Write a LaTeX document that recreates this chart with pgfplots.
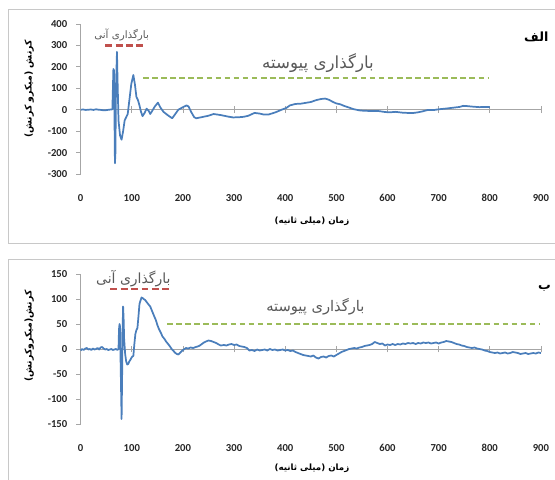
\documentclass[border=0pt]{standalone}
\usepackage{pgfplots}
\pgfplotsset{compat=1.18}
\usepackage{pgfplotstable}
\usepackage{fontspec}
\setmainfont{Carlito}
\newfontfamily\fa[Script=Arabic]{DejaVu Sans}
\TeXXeTstate=1
\newcommand{\FA}[1]{{\fa\beginR #1\endR}}
\definecolor{exblue}{HTML}{4A7EBB}
\definecolor{exred}{HTML}{C0504D}
\definecolor{exgreen}{HTML}{9BBB59}
\definecolor{axgray}{HTML}{A6A6A6}
\definecolor{framegray}{HTML}{C8C8C8}
\definecolor{txtgray}{HTML}{595959}

\pgfplotstableread{
x y
0 0
5 1
10 -1
15 0
20 1
25 -1
30 2
35 0
40 -1
45 -3
50 -2
55 0
60 1
62 2
64 190
65 185
66 0
67 -250
68 -200
69 100
71 270
72 150
74 -50
77 -120
80 -140
83 -100
86 -50
89 -35
92 -20
95 40
99 120
103 162
106 120
109 60
112 45
115 20
118 -10
121 -30
125 -15
129 5
133 -5
136 -20
140 -5
145 15
151 33
156 10
162 -10
170 -25
179 -40
185 -20
191 0
200 12
207 20
211 15
216 -10
222 -35
226 -40
236 -35
250 -28
260 -20
274 -25
288 -32
298 -36
310 -35
319 -33
328 -28
340 -15
350 -18
357 -22
368 -22
381 -12
395 2
402 8
409 20
420 27
430 28
440 32
450 36
461 45
470 50
478 52
485 47
492 38
499 30
508 25
516 17
525 10
533 3
545 -3
554 -5
570 -6
582 -6
596 -11
605 -12
616 -10
630 -14
640 -15
651 -15
660 -12
668 -8
679 -1
692 -1
700 2
713 5
727 9
741 13
748 18
755 17
768 14
780 12
790 13
800 12
}\dataA

\pgfplotstableread{
x y
0 -3
3 0
6 -2
9 1
12 2
15 -1
18 0
21 -2
24 1
27 -1
30 0
33 2
36 -1
39 3
42 4
45 1
48 -1
51 0
54 -2
57 -1
60 0
63 -2
66 -1
69 0
72 -2
74 0
75 40
76 50
77 45
78 -20
79 -80
80 -140
81 -60
82 40
83 85
84 60
85 20
87 -10
89 -25
91 -31
93 -30
95 -25
97 -22
99 -18
101 -15
103 -14
105 10
107 30
109 38
111 42
113 65
115 90
117 97
119 103
121 102
123 100
126 98
129 94
132 90
136 85
140 75
144 65
147 58
150 48
153 40
157 32
160 25
164 20
167 15
171 10
174 6
178 0
181 -3
184 -7
188 -10
191 -11
194 -8
197 -5
200 -2
203 0
206 2
210 1
215 3
220 2
225 4
229 5
233 7
237 10
241 13
245 15
250 17
255 16
260 14
265 12
270 9
274 7
280 8
285 7
290 9
295 10
300 8
305 9
310 6
315 5
320 4
325 2
330 -3
335 -2
340 -4
345 -1
350 -3
355 -2
360 -1
365 -3
370 0
375 -2
380 -1
385 -3
390 -2
395 -1
400 -3
405 -2
410 -4
415 -3
420 -6
425 -8
430 -10
435 -12
440 -13
445 -14
450 -15
455 -13
460 -17
465 -19
470 -16
475 -15
480 -17
485 -14
490 -13
495 -15
500 -12
505 -9
510 -6
515 -4
520 -2
525 0
530 1
535 2
540 1
545 3
550 4
555 6
560 7
565 8
570 10
575 14
580 12
585 10
590 11
595 7
600 9
605 8
610 10
615 8
620 10
625 9
630 11
635 10
640 12
645 11
650 12
655 10
660 12
665 11
670 13
675 12
680 13
685 11
690 12
695 13
700 11
705 13
710 14
715 16
720 15
725 14
730 12
735 10
740 9
745 7
750 6
755 4
760 3
765 2
770 3
775 1
780 0
785 -1
790 -3
795 -4
800 -6
805 -7
810 -8
815 -7
820 -9
825 -8
830 -7
835 -9
840 -8
845 -6
850 -7
855 -8
860 -10
865 -9
870 -8
875 -10
880 -9
885 -8
890 -9
895 -7
900 -8
}\dataB

\pgfplotsset{
  exstyle/.style={
    width=345.2pt, height=112.5pt, scale only axis, clip=false,
    xmin=0, xmax=900, xtick={0,100,...,900},
    axis x line*=bottom, x axis line style={draw=none},
    axis y line*=left, y axis line style={draw=axgray, line width=0.6pt},
    xtick style={draw=none},
    ytick style={draw=axgray, line width=0.6pt},
    tick align=outside, major tick length=3.5pt,
    /pgf/number format/assume math mode=true,
    ticklabel style={font=\fontsize{8}{9}\selectfont\bfseries, text=black!85},
    xticklabel style={yshift=-8pt},
    yticklabel style={xshift=-3pt},
  }
}

\begin{document}
\begin{tikzpicture}[x=0.75pt,y=0.75pt]
\useasboundingbox (0,0) rectangle (555,479);
\draw[framegray, line width=0.75pt] (560,236) -- (8,236) -- (8,469) -- (560,469);
\draw[framegray, line width=0.75pt] (560,220) -- (8,220) -- (8,-5);

\begin{axis}[exstyle, at={(60.5pt,228.75pt)}, anchor=south west,
  ymin=-300, ymax=400, ytick={-300,-200,...,400}]
  \draw[axgray, line width=0.6pt] (axis cs:0,0) -- (axis cs:900,0);
  \pgfplotsinvokeforeach{100,200,300,400,500,600,700,800,900}{
    \draw[axgray, line width=0.6pt] ([yshift=-2.5pt]axis cs:#1,0) -- ([yshift=2.5pt]axis cs:#1,0);
  }
  \addplot[exred, line width=2.2pt, dash pattern=on 5.2pt off 2.6pt] coordinates {(48,300) (122,300)};
  \addplot[exgreen, line width=1.6pt, dash pattern=on 4.2pt off 2.6pt] coordinates {(122,150) (796,150)};
  \addplot[exblue, line width=1.3pt, line join=round] table[x=x,y=y] {\dataA};
  \node[text=txtgray, font=\fontsize{7.7}{9}\selectfont] at (axis cs:80,350) {\FA{بارگذاری آنی}};
  \node[text=txtgray, font=\fontsize{12.5}{14}\selectfont] at (axis cs:464,218) {\FA{بارگذاری پیوسته}};
  \node[rotate=90, font=\fontsize{7}{8}\selectfont\bfseries] at (rel axis cs:-0.112,0.567) {\FA{کرنش (میکرو کرنش)}};
  \node[font=\fontsize{6.5}{8}\selectfont\bfseries] at (rel axis cs:0.5025,-0.313) {\FA{زمان (میلی ثانیه)}};
  \node[font=\fontsize{9.5}{10}\selectfont\bfseries] at (rel axis cs:0.99,0.913) {\FA{الف}};
\end{axis}

\begin{axis}[exstyle, at={(60.5pt,41.25pt)}, anchor=south west,
  ymin=-150, ymax=150, ytick={-150,-100,...,150}]
  \draw[axgray, line width=0.6pt] (axis cs:0,0) -- (axis cs:900,0);
  \pgfplotsinvokeforeach{100,200,300,400,500,600,700,800,900}{
    \draw[axgray, line width=0.6pt] ([yshift=-2.5pt]axis cs:#1,0) -- ([yshift=2.5pt]axis cs:#1,0);
  }
  \addplot[exred, line width=2.2pt, dash pattern=on 5.2pt off 2.6pt] coordinates {(58,120) (173,120)};
  \addplot[exgreen, line width=1.6pt, dash pattern=on 4.2pt off 2.6pt] coordinates {(169,50) (896,50)};
  \addplot[exblue, line width=1.3pt, line join=round] table[x=x,y=y] {\dataB};
  \node[text=txtgray, font=\fontsize{10.5}{12}\selectfont] at (axis cs:103,141) {\FA{بارگذاری آنی}};
  \node[text=txtgray, font=\fontsize{11}{12}\selectfont] at (axis cs:459,84) {\FA{بارگذاری پیوسته}};
  \node[rotate=90, font=\fontsize{7}{8}\selectfont\bfseries] at (rel axis cs:-0.112,0.587) {\FA{کرنش(میکروکرنش)}};
  \node[font=\fontsize{6.5}{8}\selectfont\bfseries] at (rel axis cs:0.5025,-0.293) {\FA{زمان (میلی ثانیه)}};
  \node[font=\fontsize{9.5}{10}\selectfont\bfseries] at (rel axis cs:1.008,0.907) {\FA{ب}};
\end{axis}
\end{tikzpicture}
\end{document}
